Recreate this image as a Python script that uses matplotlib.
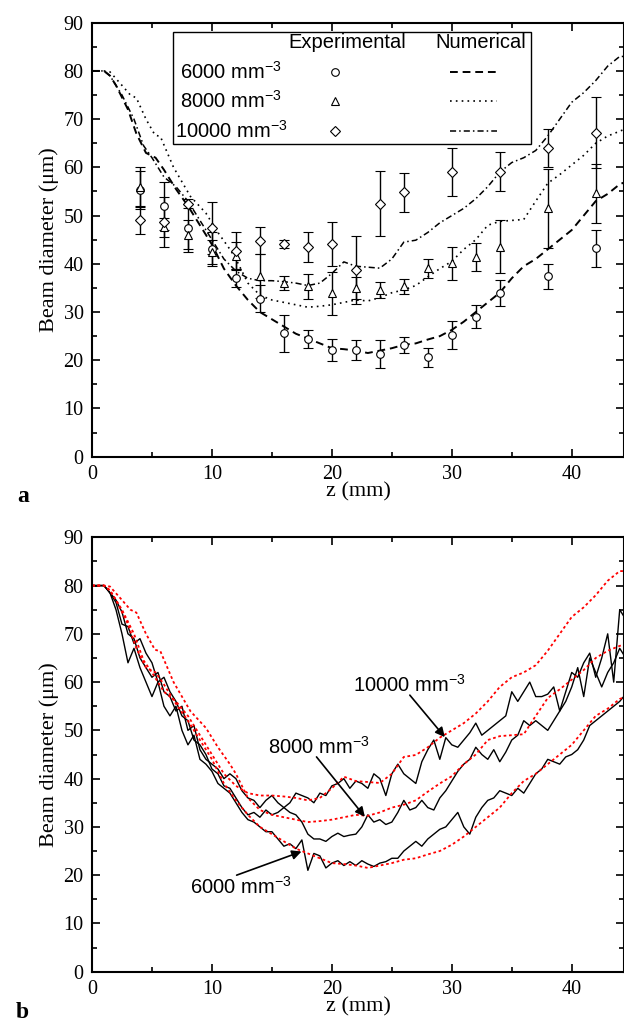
import numpy as np
import matplotlib
matplotlib.use("Agg")
import matplotlib.pyplot as plt
from matplotlib.ticker import MultipleLocator
from matplotlib.patches import Rectangle
from matplotlib.lines import Line2D

plt.rcParams['font.family'] = ['Liberation Serif', 'DejaVu Serif']
plt.rcParams['mathtext.fontset'] = 'custom'
plt.rcParams['mathtext.rm'] = 'Liberation Sans'

SANS = ['Liberation Sans', 'DejaVu Sans']

# ---- experimental points (panel a) ----
z_pts = [4, 6, 8, 10, 12, 14, 16, 18, 20, 22, 24, 26, 28, 30, 32, 34, 38, 42]
d6000 = [55.3, 52, 47.5, 43, 37, 32.8, 25.6, 24.4, 22.1, 22.1, 21.3, 23.2, 20.6, 25.3, 29, 33.9, 37.4, 43.2]
e6000 = [4, 5, 5, 3.5, 1.9, 2.8, 3.8, 1.9, 2.3, 2, 2.9, 1.7, 1.9, 2.9, 2.4, 2.7, 2.6, 3.8]
d8000 = [56, 47.6, 46, 42.5, 41.6, 37.5, 36, 35.3, 33.9, 34.9, 34.6, 35.3, 39.1, 40.1, 41.5, 43.5, 51.5, 54.6]
e8000 = [4, 2, 3, 2.5, 2.9, 4.5, 1.4, 2.6, 4.5, 2.3, 1.6, 1.5, 2, 3.4, 2.9, 5.5, 8.2, 6.2]
z_dia = [4, 6, 8, 10, 12, 14, 16, 18, 20, 22, 24, 26, 30, 34, 38, 42]
d10000 = [49, 48.7, 52.5, 47.4, 42.7, 44.8, 44.1, 43.4, 44.1, 38.7, 52.5, 54.8, 59.1, 59.1, 64, 67.2]
e10000 = [2.8, 5.2, 1, 5.4, 3.8, 2.8, 0.9, 3.1, 4.6, 7, 6.7, 4, 5, 4, 4, 7.4]

# ---- numerical curves (both panels) ----
z_n6 = [0, 1, 1.5, 2, 3, 3.7, 4.5, 5.3, 6, 7, 8, 9, 10, 11, 12, 13, 14, 15, 16, 17, 18, 19, 20,
        21, 22, 23, 24, 25, 26, 27, 28, 29, 30, 31, 32, 33, 34, 35, 36, 37, 38, 39, 40, 41, 42,
        43, 44, 44.5]
n6000 = [80, 80, 79, 77, 72, 67, 63, 62, 59.5, 55.5, 52, 48, 44, 39, 35.5, 32.5, 30, 28.5, 27,
         25.5, 24.5, 23.5, 22.5, 22.3, 22, 21.5, 22, 22.5, 23.2, 23.5, 24.3, 25, 26.3, 28, 30, 32,
         34, 37, 39.5, 41, 43, 45, 47, 50, 53, 54.5, 56.5, 57]
z_n8 = [0, 1, 1.5, 2.5, 3.2, 3.7, 4.5, 5.25, 5.7, 6.8, 8.2, 9.5, 10.5, 11.5, 12, 13, 14, 15, 16,
        17, 18, 19, 20, 21, 22, 23, 24, 25, 26, 27, 28, 29, 30, 31, 32, 33, 34, 35, 36, 37, 38,
        39, 40, 41, 42, 43, 44, 44.5]
n8000 = [80, 80, 79.8, 77, 75, 74.4, 70, 66.7, 66.4, 60, 54, 50.5, 46.5, 43, 41, 36, 33.5, 32.5,
         32, 31.5, 31, 31.2, 31.5, 32, 32.5, 32.3, 33, 34, 34.6, 35.5, 37.3, 39, 40.5, 43, 45, 48,
         48.8, 49, 49.2, 53, 56.7, 58.5, 60.5, 62.5, 65, 66.5, 67.5, 68]
z_n10 = [0, 1, 1.5, 2.5, 3.5, 4.3, 5, 6, 7, 8, 9, 10, 11, 12, 13, 14, 15, 16, 17, 18, 19, 20, 21,
         22, 23, 24, 25, 26, 27, 28, 29, 30, 31, 32, 33, 34, 35, 36, 37, 38, 39, 40, 41, 42, 43,
         44, 44.5]
n10000 = [80, 80, 79, 75, 70, 64.5, 62, 58, 56, 53, 49, 45, 41, 38.5, 37, 36.5, 36.5, 36.3, 36,
          35.5, 36, 38, 40.4, 39.5, 39.3, 39.1, 41, 44.5, 44.9, 46.5, 48.5, 50, 51.5, 53.5, 56, 59,
          61, 62, 63.5, 66.5, 70, 73.5, 75.5, 78, 81, 83, 83]

# ---- measured profiles (panel b) ----
z_exp = [0, 1, 1.5, 2, 2.5, 3, 3.5, 4, 4.5, 5, 5.5, 6, 6.5, 7, 7.5, 8, 8.5, 9, 9.5, 10, 10.5, 11,
         11.5, 12, 12.5, 13, 13.5, 14, 14.5, 15, 15.5, 16, 16.5, 17, 17.5, 18, 18.5, 19, 19.5, 20,
         20.5, 21, 21.5, 22, 22.5, 23, 23.5, 24, 24.5, 25, 25.5, 26, 26.5, 27, 27.5, 28, 28.5, 29,
         29.5, 30, 30.5, 31, 31.5, 32, 32.5, 33, 33.5, 34, 34.5, 35, 35.5, 36, 36.5, 37, 37.5, 38,
         38.5, 39, 39.5, 40, 40.5, 41, 41.5, 42, 42.5, 43, 43.5, 44, 44.5]
x6000 = [80, 80, 78.5, 75, 70, 64, 67, 63, 60, 57, 60, 55, 53, 55, 50, 47, 49, 44, 43, 41.5, 39,
         38, 37, 35, 33, 31.5, 31, 30, 29, 29, 27.5, 26, 26.5, 25.5, 27.3, 21, 24.5, 24, 21.5, 22.5,
         23, 22, 22.8, 22, 23, 22.3, 21.8, 22.5, 22.8, 23.5, 23.5, 25, 26, 27, 26, 27.5, 28.5, 29.5,
         30, 31.5, 33, 30, 28.5, 32, 34, 35.5, 36, 37.5, 37, 36.5, 38, 37, 39, 41, 42, 44, 43.5, 43,
         44.5, 45, 46, 48, 51, 52, 53, 54, 55, 56, 57.5]
x8000 = [80, 80, 78.5, 76.5, 72, 71.5, 68, 69, 66, 64, 60, 61, 58, 56, 53, 52, 48, 47, 45, 42, 41,
         38.5, 38, 36, 34, 32.5, 33, 32, 33.5, 32.5, 33, 34, 33, 32.5, 31, 28.5, 27.5, 27.5, 27, 28,
         28.7, 28, 28.3, 28.5, 30, 32.5, 31, 31.5, 30.5, 31, 33, 35.5, 33.5, 34, 35.5, 34, 33.5, 36,
         37.5, 39.5, 41.5, 43, 44, 46.5, 45, 44, 46, 43.5, 45.5, 48, 49, 52, 51, 52, 51, 50, 52, 54,
         56, 59, 63, 57, 65, 62, 59, 62, 64, 67, 65]
x10000 = [80, 80, 78.5, 77, 74.5, 70, 69, 65, 63, 61, 62, 58, 57, 54, 55, 50, 51, 46, 44, 43, 42,
          40, 41, 40, 37.5, 36, 35.5, 34, 35.5, 36.5, 35, 34, 35, 37, 36.5, 36, 35, 37, 36.5, 38.5,
          39, 40, 38, 39.5, 39, 38, 41, 40, 36.5, 41, 43, 41, 40, 39, 43.5, 46, 48, 44, 48.5, 47,
          46.5, 48, 49.5, 51.5, 49, 50, 51, 52, 53, 58, 56, 58, 60, 57, 57, 57.5, 59, 54, 58, 62, 61,
          64, 66, 61, 65, 70, 60, 75, 73]

fig = plt.figure(figsize=(6.24, 10.29), dpi=100)
W, H = 624, 1029


def make_axes(top_px, bottom_px):
    ax = fig.add_axes([92 / W, 1 - bottom_px / H, 532.5 / W, (bottom_px - top_px) / H])
    ax.set_xlim(0, 44.4)
    ax.set_ylim(0, 90)
    ax.xaxis.set_major_locator(MultipleLocator(10))
    ax.xaxis.set_minor_locator(MultipleLocator(5))
    ax.yaxis.set_major_locator(MultipleLocator(10))
    ax.yaxis.set_minor_locator(MultipleLocator(5))
    ax.tick_params(which='both', direction='in', top=True, right=True, width=1.2)
    ax.tick_params(which='major', length=6, labelsize=14.5, pad=6)
    ax.tick_params(which='minor', length=3.5)
    for s in ax.spines.values():
        s.set_linewidth(1.5)
    ax.set_xlabel('z (mm)', fontsize=16, labelpad=-1)
    ax.set_ylabel('Beam diameter (μm)', fontsize=16, labelpad=3)
    return ax


# ---------------- panel a ----------------
ax1 = make_axes(22.7, 456.7)
ax1.plot(z_n6, n6000, color='k', lw=1.4, ls=(0, (4, 2.5)))
ax1.plot(z_n8, n8000, color='k', lw=1.2, ls=(0, (1, 2.5)))
ax1.plot(z_n10, n10000, color='k', lw=1.1, ls=(0, (4, 2, 1, 2)))

eb = dict(color='k', ecolor='k', elinewidth=1.0, capsize=3.5, capthick=1.0, ls='none',
          mfc='white', mec='k', mew=0.8)
ax1.errorbar(z_pts, d6000, yerr=e6000, marker='o', ms=5.5, **eb)
ax1.errorbar(z_pts, d8000, yerr=e8000, marker='^', ms=6, **eb)
ax1.errorbar(z_dia, d10000, yerr=e10000, marker='D', ms=5, **eb)


def ax_xy(px, py):
    return (px - 92) / 532.5, (456.7 - py) / 434


tr = ax1.transAxes
x0, y0 = ax_xy(173, 144)
x1, y1 = ax_xy(531, 32)
ax1.add_patch(Rectangle((x0, y0), x1 - x0, y1 - y0, transform=tr, fc='white', ec='k', lw=1.0, zorder=5))
for txt, px in [('Experimental', 347), ('Numerical', 481)]:
    ax1.text(ax_xy(px, 0)[0], ax_xy(0, 43)[1], txt, transform=tr, ha='center', va='center',
             fontsize=14.5, family=SANS, zorder=6)
rows = [('6000 mm$^{\\mathregular{-3}}$', 180, 72, 'o', 5.5, (0, (4, 2.5)), 1.4),
        ('8000 mm$^{\\mathregular{-3}}$', 180, 101, '^', 6, (0, (1, 2.5)), 1.2),
        ('10000 mm$^{\\mathregular{-3}}$', 175, 131, 'D', 5, (0, (4, 2, 1, 2)), 1.1)]
for label, px, py, mk, ms, ls, lw in rows:
    lx, ly = ax_xy(px, py)
    ax1.text(lx, ly, label, transform=tr, ha='left', va='center', fontsize=14.5, family=SANS, zorder=6)
    mx, _ = ax_xy(335, py)
    ax1.add_line(Line2D([mx], [ly], marker=mk, ms=ms, mfc='white', mec='k',
                        mew=0.8, transform=tr, zorder=6))
    sx0, _ = ax_xy(450, py)
    sx1, _ = ax_xy(497, py)
    ax1.add_line(Line2D([sx0, sx1], [ly, ly], color='k', ls=ls, lw=lw, transform=tr, zorder=6))

# ---------------- panel b ----------------
ax2 = make_axes(537.3, 971.7)
red_ls = dict(color='#ff0000', lw=1.3, ls=(0, (1.5, 1.5)))
ax2.plot(z_exp, x6000, color='k', lw=1.0)
ax2.plot(z_exp, x8000, color='k', lw=1.0)
ax2.plot(z_exp, x10000, color='k', lw=1.0)
ax2.plot(z_n6, n6000, **red_ls)
ax2.plot(z_n8, n8000, **red_ls)
ax2.plot(z_n10, n10000, **red_ls)

arrow = dict(arrowstyle='-|>', color='k', lw=1.2, mutation_scale=14, shrinkA=0, shrinkB=0)
notes = [('10000 mm$^{\\mathregular{-3}}$', (21.75, 59.4), (26.5, 57.3), (29.42, 48.6)),
         ('8000 mm$^{\\mathregular{-3}}$', (14.67, 46.6), (18.72, 44.5), (22.75, 32.1)),
         ('6000 mm$^{\\mathregular{-3}}$', (8.17, 17.6), (12.06, 20.0), (17.47, 24.9))]
for label, tpos, tail, tip in notes:
    ax2.text(tpos[0], tpos[1], label, ha='left', va='center', fontsize=14.5, family=SANS)
    ax2.annotate('', xy=tip, xytext=tail, arrowprops=arrow)

fig.text(17 / W, 1 - 497 / H, 'a', fontsize=17, fontweight='bold', ha='left', va='center')
fig.text(16 / W, 1 - 1012 / H, 'b', fontsize=17, fontweight='bold', ha='left', va='center')

fig.savefig('out.png', dpi=100)
